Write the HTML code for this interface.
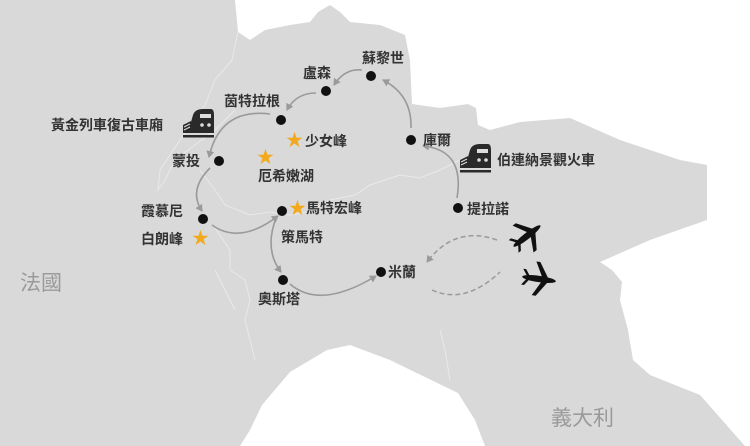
<!DOCTYPE html>
<html><head><meta charset="utf-8"><style>
html,body{margin:0;padding:0;background:#fff}
svg{display:block}
text{font-family:"Liberation Sans","Noto Sans CJK TC",sans-serif}
.l{font-size:14px;font-weight:bold;fill:#333}
.c{font-size:21px;fill:#9a9a9a}
</style></head><body>
<svg width="750" height="446" viewBox="0 0 750 446" xmlns="http://www.w3.org/2000/svg">
<defs>
<marker id="ah" markerWidth="8" markerHeight="8" refX="6" refY="4" orient="auto" markerUnits="userSpaceOnUse"><path d="M0,0 L7,4 L0,8 Z" fill="#9a9a9a"/></marker>
<g id="plane"><ellipse cx="0" cy="0" rx="17" ry="3.2" fill="#111"/><path d="M3,-2 L-5,-17 L-1,-17 L9,-2 Z M3,2 L-5,17 L-1,17 L9,2 Z M-12,-1 L-17,-8 L-14,-8 L-9,-1 Z M-12,1 L-17,8 L-14,8 L-9,1 Z" fill="#111"/></g>
<g id="train"><path d="M6,22 L10,8 Q12,2 20,2 L28,2 Q31,2 31,8 L31,26 L6,26 Z" fill="#2a2a2a"/><rect x="17" y="7" width="11" height="4" fill="#ddd"/><circle cx="19" cy="18" r="1.8" fill="#ddd"/><circle cx="26" cy="18" r="1.8" fill="#ddd"/><path d="M0,18 L8,14 L8,26 L0,26 Z" fill="#2a2a2a"/><rect x="0" y="28" width="31" height="2.5" fill="#2a2a2a"/><path d="M1,20 L7,17 M1,23 L7,20" stroke="#ddd" stroke-width="1"/></g>
</defs>
<rect width="750" height="446" fill="#d9d9d9"/>
<path d="M235,0 L750,0 L750,446 L745,446 L700,395 L650,375 L633,360 L628,330 L620,300 L622,282 L612,270 L600,262 L650,240 L707,220 L707,165 L680,160 L620,140 L570,118 L520,122 L490,130 L478,125 L476,108 L468,104 L440,108 L412,104 L410,60 L405,35 L380,25 L350,22 L340,12 L330,5 L318,12 L310,22 L290,25 L265,30 L250,40 L238,32 Z" fill="#fff"/>
<path d="M240,446 L250,430 L262,405 L290,372 L327,350 L350,345 L390,360 L427,378 L458,393 L475,420 L485,446 Z" fill="#fff"/>
<g fill="none" stroke="#e9e9e9" stroke-width="1">
<path d="M238,32 L232,60 L215,80 L205,105 L180,140 L160,170 L158,190 L165,180 L175,160 L195,145 L215,130 L235,110"/>
<path d="M200,170 L215,190 L225,205 L250,215 L270,212 L290,215 L310,212 L330,200 L355,195 L370,185 L385,180 L400,175 L420,178 L440,170 L460,160 L480,150"/>
<path d="M215,228 L230,250 L230,270 L245,280 L250,300 L245,320 L250,340 L255,360"/>
<path d="M215,270 L225,290 L235,310"/>
<path d="M440,330 L445,350 L450,380"/>
</g>
<g fill="none" stroke="#9a9a9a" stroke-width="1.6" marker-end="url(#ah)">
<path d="M411,128 Q412,95 383,80"/>
<path d="M362,70 Q345,68 334,85"/>
<path d="M316,93 Q296,93 287,110"/>
<path d="M270,114 Q220,108 209,157"/>
<path d="M210,168 Q188,190 202,211"/>
<path d="M212,225 Q240,245 278,216"/>
<path d="M276,218 Q264,250 281,272"/>
<path d="M290,284 Q320,310 376,276"/>
<path d="M457,198 Q465,150 423,146"/>
</g>
<g fill="none" stroke="#9a9a9a" stroke-width="1.5" stroke-dasharray="5,3">
<path d="M497,240 Q455,225 427,262" marker-end="url(#ah)"/>
<path d="M432,290 Q465,305 500,272"/>
</g>
<g fill="#111">
<circle cx="371" cy="76" r="5"/><circle cx="326" cy="91" r="5"/><circle cx="281" cy="120" r="5"/><circle cx="219" cy="161" r="5"/>
<circle cx="411" cy="140" r="5"/><circle cx="458" cy="208" r="5"/><circle cx="203" cy="219" r="5"/><circle cx="282" cy="211" r="5"/>
<circle cx="283" cy="280" r="5"/><circle cx="381" cy="272" r="5"/>
</g>
<g fill="#f2a91c" font-size="17">
<text x="286" y="146">★</text><text x="257" y="163">★</text><text x="192" y="244">★</text><text x="289" y="214">★</text>
</g>
<use href="#train" x="183" y="107"/>
<use href="#train" x="460" y="142"/>
<use href="#plane" transform="translate(527,236) rotate(-38)"/>
<use href="#plane" transform="translate(539,279) rotate(8)"/>
<g class="l">
<text x="362" y="63">蘇黎世</text>
<text x="303" y="78">盧森</text>
<text x="224" y="106">茵特拉根</text>
<text x="51" y="130">黃金列車復古車廂</text>
<text x="305" y="146">少女峰</text>
<text x="258" y="181">厄希嫩湖</text>
<text x="172" y="166">蒙投</text>
<text x="423" y="145">庫爾</text>
<text x="497" y="165">伯連納景觀火車</text>
<text x="467" y="214">提拉諾</text>
<text x="141" y="216">霞慕尼</text>
<text x="141" y="244">白朗峰</text>
<text x="306" y="213">馬特宏峰</text>
<text x="281" y="242">策馬特</text>
<text x="258" y="304">奧斯塔</text>
<text x="388" y="277">米蘭</text>
</g>
<text class="c" x="20" y="290">法國</text>
<text class="c" x="551" y="425">義大利</text>
</svg>
</body></html>
